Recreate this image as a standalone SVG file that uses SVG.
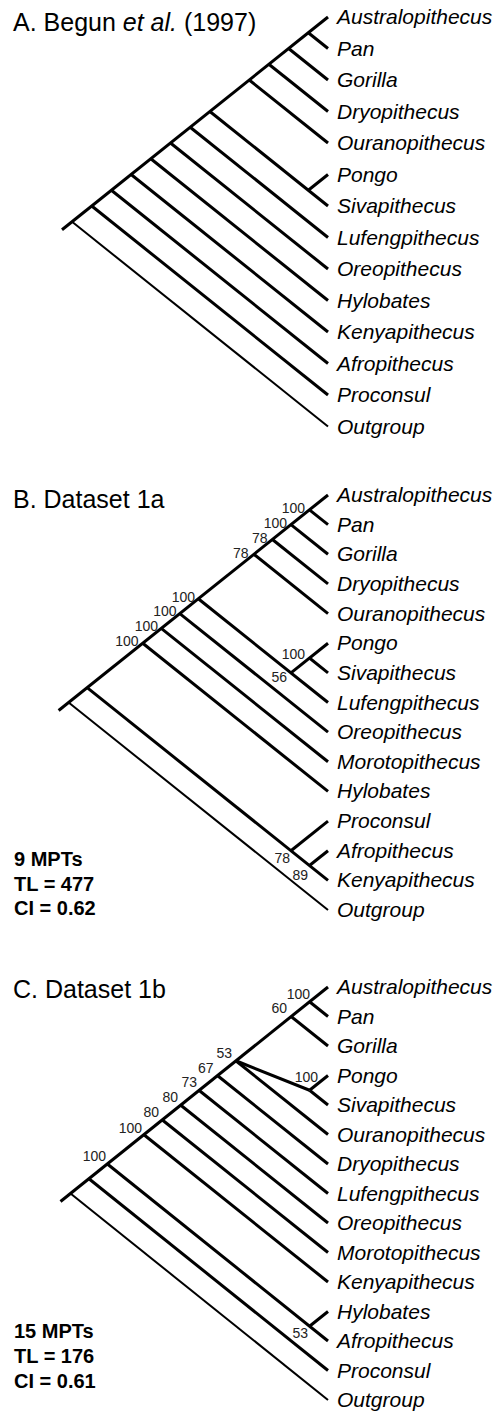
<svg xmlns="http://www.w3.org/2000/svg" width="503" height="1411" viewBox="0 0 503 1411">
  <style>
    .br { stroke: #000; stroke-width: 3; fill: none; stroke-linecap: butt; stroke-linejoin: miter; }
    .og { stroke: #000; stroke-width: 2; fill: none; }
    .tx { font-family: "Liberation Sans", Arial, sans-serif; font-style: italic; font-size: 21px; fill: #000; }
    .ttl { font-family: "Liberation Sans", Arial, sans-serif; font-size: 25px; fill: #000; }
    .bs { font-family: "Liberation Sans", Arial, sans-serif; font-size: 14px; fill: #222; text-anchor: end; }
    .st { font-family: "Liberation Sans", Arial, sans-serif; font-size: 20px; font-weight: bold; fill: #000; }
  </style>
  <rect width="503" height="1411" fill="#fff"/>

  <!-- ===== Panel A ===== -->
  <text class="ttl" x="13" y="31">A. Begun <tspan font-style="italic">et al.</tspan> (1997)</text>
  <g id="edges-a">
    <polyline class="br" points="62,229.75 328,17"/>
    <line class="br" x1="328" y1="48.5" x2="308.3" y2="32.75"/>
    <line class="br" x1="328" y1="80" x2="288.6" y2="48.5"/>
    <line class="br" x1="328" y1="111.5" x2="268.9" y2="64.25"/>
    <line class="br" x1="328" y1="143" x2="249.25" y2="80"/>
    <line class="br" x1="328" y1="174.5" x2="308.3" y2="190.25"/>
    <line class="br" x1="328" y1="206" x2="209.9" y2="111.5"/>
    <line class="br" x1="328" y1="237.5" x2="190.2" y2="127.25"/>
    <line class="br" x1="328" y1="269" x2="170.5" y2="143"/>
    <line class="br" x1="328" y1="300.5" x2="150.8" y2="158.75"/>
    <line class="br" x1="328" y1="332" x2="131.1" y2="174.5"/>
    <line class="br" x1="328" y1="363.5" x2="111.4" y2="190.25"/>
    <line class="br" x1="328" y1="395" x2="91.75" y2="206"/>
    <line class="og" x1="328" y1="426.5" x2="72.06" y2="221.75"/>
  </g>
  <g id="taxa-a">
    <g id="a-australopithecus"><text class="tx" x="337" y="24">Australopithecus</text></g>
    <g id="a-pan"><text class="tx" x="337" y="55.5">Pan</text></g>
    <g id="a-gorilla"><text class="tx" x="337" y="87">Gorilla</text></g>
    <g id="a-dryopithecus"><text class="tx" x="337" y="118.5">Dryopithecus</text></g>
    <g id="a-ouranopithecus"><text class="tx" x="337" y="150">Ouranopithecus</text></g>
    <g id="a-pongo"><text class="tx" x="337" y="181.5">Pongo</text></g>
    <g id="a-sivapithecus"><text class="tx" x="337" y="213">Sivapithecus</text></g>
    <g id="a-lufengpithecus"><text class="tx" x="337" y="244.5">Lufengpithecus</text></g>
    <g id="a-oreopithecus"><text class="tx" x="337" y="276">Oreopithecus</text></g>
    <g id="a-hylobates"><text class="tx" x="337" y="307.5">Hylobates</text></g>
    <g id="a-kenyapithecus"><text class="tx" x="337" y="339">Kenyapithecus</text></g>
    <g id="a-afropithecus"><text class="tx" x="337" y="370.5">Afropithecus</text></g>
    <g id="a-proconsul"><text class="tx" x="337" y="402">Proconsul</text></g>
    <g id="a-outgroup"><text class="tx" x="337" y="433.5">Outgroup</text></g>
  </g>

  <!-- ===== Panel B ===== -->
  <text class="ttl" x="13" y="508">B. Dataset 1a</text>
  <g id="edges-b">
    <polyline class="br" points="58.6,710.5 328,495"/>
    <line class="br" x1="328" y1="524.64" x2="309.47" y2="509.82"/>
    <line class="br" x1="328" y1="554.29" x2="290.94" y2="524.64"/>
    <line class="br" x1="328" y1="583.93" x2="272.42" y2="539.46"/>
    <line class="br" x1="328" y1="613.57" x2="253.89" y2="554.29"/>
    <line class="br" x1="328" y1="643.21" x2="290.94" y2="672.86"/>
    <line class="br" x1="328" y1="672.86" x2="309.47" y2="658.04"/>
    <line class="br" x1="328" y1="702.5" x2="198.31" y2="598.75"/>
    <line class="br" x1="328" y1="732.14" x2="179.79" y2="613.57"/>
    <line class="br" x1="328" y1="761.79" x2="161.26" y2="628.39"/>
    <line class="br" x1="328" y1="791.43" x2="142.73" y2="643.21"/>
    <line class="br" x1="328" y1="821.07" x2="290.94" y2="850.71"/>
    <line class="br" x1="328" y1="850.71" x2="309.47" y2="865.54"/>
    <line class="br" x1="328" y1="880.36" x2="87.15" y2="687.68"/>
    <line class="og" x1="328" y1="910" x2="68.63" y2="702.5"/>
  </g>
  <g id="support-b">
    <text class="bs" x="305" y="513">100</text>
    <text class="bs" x="287" y="527.5">100</text>
    <text class="bs" x="267.5" y="542.5">78</text>
    <text class="bs" x="248.5" y="557.5">78</text>
    <text class="bs" x="195" y="602">100</text>
    <text class="bs" x="176.5" y="616">100</text>
    <text class="bs" x="158" y="631">100</text>
    <text class="bs" x="138.5" y="645.5">100</text>
    <text class="bs" x="305" y="658.5">100</text>
    <text class="bs" x="287" y="682">56</text>
    <text class="bs" x="290" y="863">78</text>
    <text class="bs" x="308" y="880">89</text>
  </g>
  <g id="taxa-b">
    <g id="b-australopithecus"><text class="tx" x="337" y="502">Australopithecus</text></g>
    <g id="b-pan"><text class="tx" x="337" y="531.64">Pan</text></g>
    <g id="b-gorilla"><text class="tx" x="337" y="561.29">Gorilla</text></g>
    <g id="b-dryopithecus"><text class="tx" x="337" y="590.93">Dryopithecus</text></g>
    <g id="b-ouranopithecus"><text class="tx" x="337" y="620.57">Ouranopithecus</text></g>
    <g id="b-pongo"><text class="tx" x="337" y="650.21">Pongo</text></g>
    <g id="b-sivapithecus"><text class="tx" x="337" y="679.86">Sivapithecus</text></g>
    <g id="b-lufengpithecus"><text class="tx" x="337" y="709.5">Lufengpithecus</text></g>
    <g id="b-oreopithecus"><text class="tx" x="337" y="739.14">Oreopithecus</text></g>
    <g id="b-morotopithecus"><text class="tx" x="337" y="768.79">Morotopithecus</text></g>
    <g id="b-hylobates"><text class="tx" x="337" y="798.43">Hylobates</text></g>
    <g id="b-proconsul"><text class="tx" x="337" y="828.07">Proconsul</text></g>
    <g id="b-afropithecus"><text class="tx" x="337" y="857.71">Afropithecus</text></g>
    <g id="b-kenyapithecus"><text class="tx" x="337" y="887.36">Kenyapithecus</text></g>
    <g id="b-outgroup"><text class="tx" x="337" y="917">Outgroup</text></g>
  </g>
  <g id="stats-b">
    <text class="st" x="14" y="866">9 MPTs</text>
    <text class="st" x="14" y="890.5">TL = 477</text>
    <text class="st" x="14" y="915">CI = 0.62</text>
  </g>

  <!-- ===== Panel C ===== -->
  <text class="ttl" x="13" y="998">C. Dataset 1b</text>
  <g id="edges-c">
    <polyline class="br" points="60.5,1201.5 328,987"/>
    <line class="br" x1="328" y1="1016.5" x2="309.56" y2="1001.75"/>
    <line class="br" x1="328" y1="1046" x2="291.13" y2="1016.5"/>
    <line class="br" x1="309.56" y1="1090.25" x2="235.81" y2="1060.75"/>
    <line class="br" x1="328" y1="1075.5" x2="309.56" y2="1090.25"/>
    <line class="br" x1="328" y1="1105" x2="309.56" y2="1090.25"/>
    <line class="br" x1="328" y1="1134.5" x2="235.81" y2="1060.75"/>
    <line class="br" x1="328" y1="1164" x2="217.38" y2="1075.5"/>
    <line class="br" x1="328" y1="1193.5" x2="198.94" y2="1090.25"/>
    <line class="br" x1="328" y1="1223" x2="180.5" y2="1105"/>
    <line class="br" x1="328" y1="1252.5" x2="162.06" y2="1119.75"/>
    <line class="br" x1="328" y1="1282" x2="143.63" y2="1134.5"/>
    <line class="br" x1="328" y1="1311.5" x2="309.56" y2="1326.25"/>
    <line class="br" x1="328" y1="1341" x2="107.38" y2="1164"/>
    <line class="br" x1="328" y1="1370.5" x2="88.94" y2="1178.75"/>
    <line class="og" x1="328" y1="1400" x2="70.5" y2="1193.5"/>
  </g>
  <g id="support-c">
    <text class="bs" x="310" y="999">100</text>
    <text class="bs" x="287" y="1013">60</text>
    <text class="bs" x="232" y="1058">53</text>
    <text class="bs" x="213.5" y="1073">67</text>
    <text class="bs" x="197" y="1087">73</text>
    <text class="bs" x="178" y="1102">80</text>
    <text class="bs" x="159" y="1117">80</text>
    <text class="bs" x="142" y="1133">100</text>
    <text class="bs" x="106" y="1161">100</text>
    <text class="bs" x="318" y="1082">100</text>
    <text class="bs" x="308" y="1338">53</text>
  </g>
  <g id="taxa-c">
    <g id="c-australopithecus"><text class="tx" x="337" y="994">Australopithecus</text></g>
    <g id="c-pan"><text class="tx" x="337" y="1023.5">Pan</text></g>
    <g id="c-gorilla"><text class="tx" x="337" y="1053">Gorilla</text></g>
    <g id="c-pongo"><text class="tx" x="337" y="1082.5">Pongo</text></g>
    <g id="c-sivapithecus"><text class="tx" x="337" y="1112">Sivapithecus</text></g>
    <g id="c-ouranopithecus"><text class="tx" x="337" y="1141.5">Ouranopithecus</text></g>
    <g id="c-dryopithecus"><text class="tx" x="337" y="1171">Dryopithecus</text></g>
    <g id="c-lufengpithecus"><text class="tx" x="337" y="1200.5">Lufengpithecus</text></g>
    <g id="c-oreopithecus"><text class="tx" x="337" y="1230">Oreopithecus</text></g>
    <g id="c-morotopithecus"><text class="tx" x="337" y="1259.5">Morotopithecus</text></g>
    <g id="c-kenyapithecus"><text class="tx" x="337" y="1289">Kenyapithecus</text></g>
    <g id="c-hylobates"><text class="tx" x="337" y="1318.5">Hylobates</text></g>
    <g id="c-afropithecus"><text class="tx" x="337" y="1348">Afropithecus</text></g>
    <g id="c-proconsul"><text class="tx" x="337" y="1377.5">Proconsul</text></g>
    <g id="c-outgroup"><text class="tx" x="337" y="1407">Outgroup</text></g>
  </g>
  <g id="stats-c">
    <text class="st" x="14" y="1338">15 MPTs</text>
    <text class="st" x="14" y="1363">TL = 176</text>
    <text class="st" x="14" y="1388">CI = 0.61</text>
  </g>
</svg>
